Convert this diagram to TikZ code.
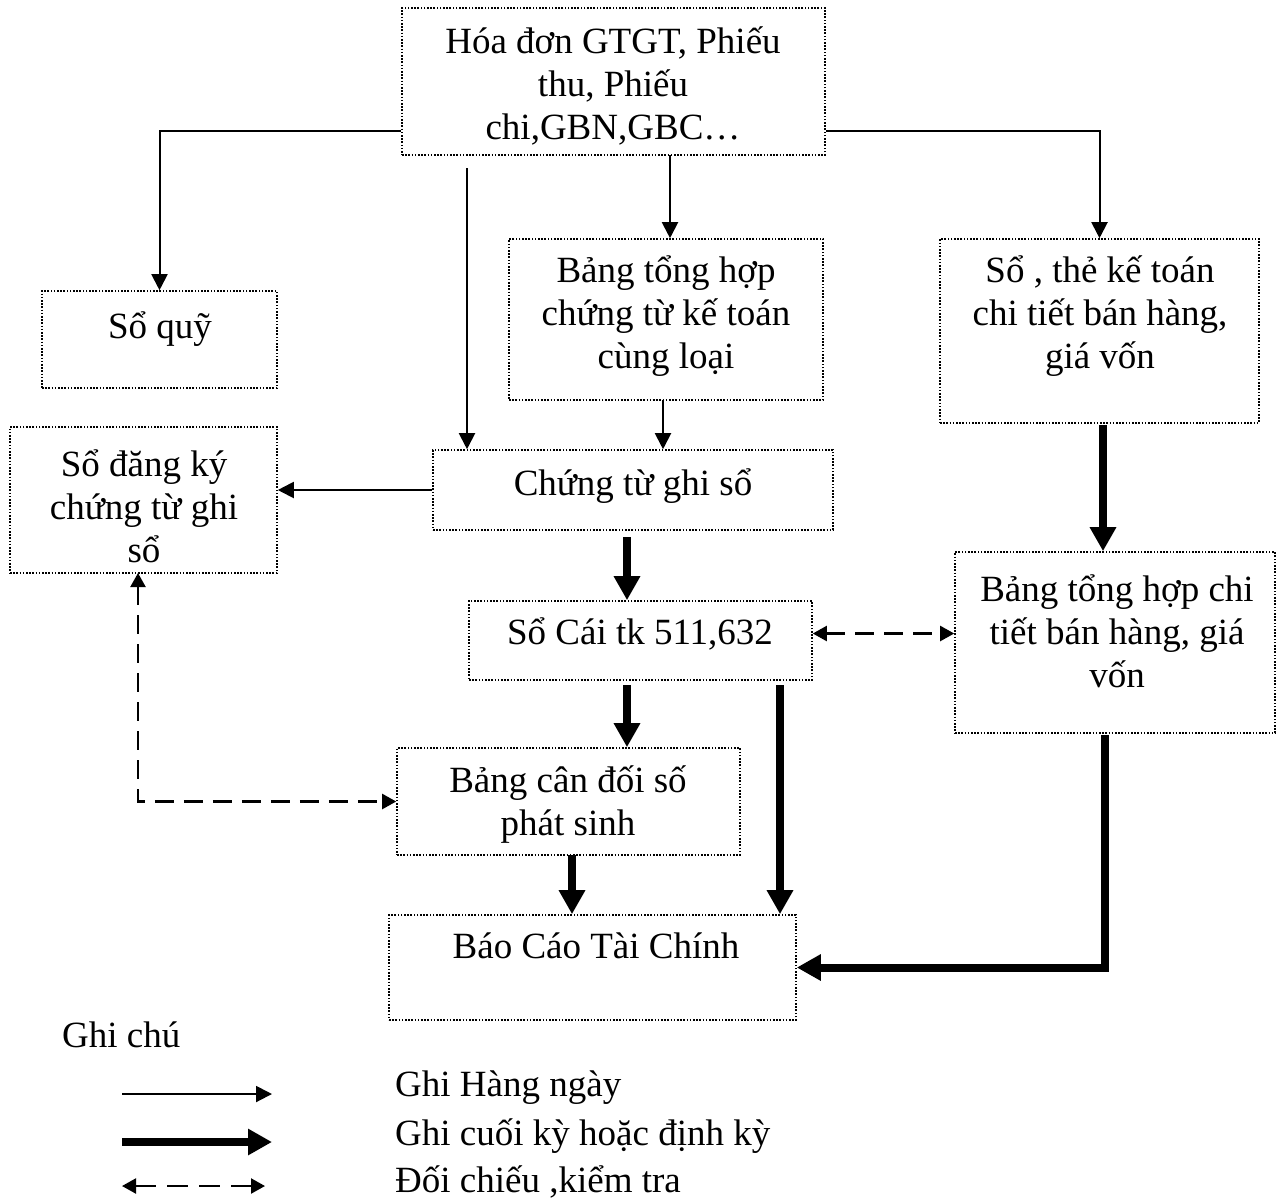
\documentclass[tikz,border=0pt]{standalone}
\usepackage{fontspec}
\setmainfont{Liberation Serif}
\usetikzlibrary{arrows.meta,calc}
\begin{document}
\begin{tikzpicture}[x=1pt,y=-1pt,
  box/.style={draw, line width=1.6pt, dash pattern=on 1.6pt off 1.6pt, inner sep=0pt},
  lbl/.style={align=center, font=\fontsize{37}{43}\selectfont, inner sep=0pt},
  thinarr/.style={line width=2pt, -{Triangle[length=16pt,width=16pt]}},
  thickarr/.style={line width=8pt, -{Triangle[length=24pt,width=25pt]}},
  chkarr/.style={line width=2.2pt, dash pattern=on 19pt off 10pt,
    {Triangle[length=14pt,width=15pt]}-{Triangle[length=14pt,width=15pt]}},
]
\useasboundingbox (0,0) rectangle (1276,1200);

% boxes
\node[box, minimum width=423pt, minimum height=147pt] (src)   at (613.5,81.5) {};
\node[box, minimum width=235pt, minimum height=97pt]  (quy)   at (159.5,339.5) {};
\node[box, minimum width=267pt, minimum height=146pt] (dk)    at (143.5,500) {};
\node[box, minimum width=314pt, minimum height=161pt] (bth)   at (666,319.5) {};
\node[box, minimum width=400pt, minimum height=80pt]  (ctgs)  at (633,490) {};
\node[box, minimum width=319pt, minimum height=184pt] (sct)   at (1099.5,331) {};
\node[box, minimum width=343pt, minimum height=79pt]  (socai) at (640.5,640.5) {};
\node[box, minimum width=320pt, minimum height=181pt] (btct)  at (1115,642.5) {};
\node[box, minimum width=343pt, minimum height=107pt] (bcd)   at (568.5,801.5) {};
\node[box, minimum width=407pt, minimum height=105pt] (bctc)  at (592.5,967.5) {};

% box texts
\node[lbl] (src-t)   at (613,86)   {Hóa đơn GTGT, Phiếu\\thu, Phiếu\\chi,GBN,GBC…};
\node[lbl] (quy-t)   at (160,329)  {Sổ quỹ};
\node[lbl] (dk-t)    at (144,506)  {Sổ đăng ký\\chứng từ ghi\\sổ};
\node[lbl] (bth-t)   at (666,316)  {Bảng tổng hợp\\chứng từ kế toán\\cùng loại};
\node[lbl] (ctgs-t)  at (633,486)  {Chứng từ ghi sổ};
\node[lbl] (sct-t)   at (1100,316) {Sổ , thẻ kế toán\\chi tiết bán hàng,\\giá vốn};
\node[lbl] (socai-t) at (640,634)  {Sổ Cái tk 511,632};
\node[lbl] (btct-t)  at (1117,631) {Bảng tổng hợp chi\\tiết bán hàng, giá\\vốn};
\node[lbl] (bcd-t)   at (568,805)  {Bảng cân đối số\\phát sinh};
\node[lbl] (bctc-t)  at (596,946)  {Báo Cáo Tài Chính};

% daily entries
\draw[thinarr] ($(src.south west)+(0,-25)$) -| (quy.north);
\coordinate (s1) at (467,168);
\draw[thinarr] (s1) -- (s1 |- ctgs.north);
\coordinate (s2) at (670,155);
\draw[thinarr] (s2) -- (s2 |- bth.north);
\draw[thinarr] ($(src.south east)+(0,-25)$) -| (sct.north);
\coordinate (s3) at (663,400);
\draw[thinarr] (s3) -- (s3 |- ctgs.north);
\draw[thinarr] (ctgs.west) -- (ctgs.west -| dk.east);

% period-end entries
\coordinate (t1) at (627,537);
\draw[thickarr] (t1) -- (t1 |- socai.north);
\coordinate (t2) at (627,685);
\draw[thickarr] (t2) -- (t2 |- bcd.north);
\coordinate (t3) at (780,685);
\draw[thickarr] (t3) -- (t3 |- bctc.north);
\coordinate (t4) at (572,855);
\draw[thickarr] (t4) -- (t4 |- bctc.north);
\coordinate (t5) at (1103,425);
\draw[thickarr] (t5) -- (t5 |- btct.north);
\coordinate (t6) at (1105,735);
\draw[thickarr] (t6) |- (bctc.east);

% cross-checks
\coordinate (c1) at ($(socai.east)+(0,-7)$);
\draw[chkarr] (c1) -- (c1 -| btct.west);
\coordinate (d1) at (138,573);
\draw[chkarr] (d1) |- (bcd.west);

% legend
\node[lbl, anchor=base west] (leg) at (62,1047) {Ghi chú};
\coordinate (l1a) at (122,1094); \coordinate (l1b) at (272,1094);
\draw[thinarr] (l1a) -- (l1b);
\coordinate (l2a) at (122,1142); \coordinate (l2b) at (272,1142);
\draw[thickarr] (l2a) -- (l2b);
\coordinate (l3a) at (122,1186); \coordinate (l3b) at (265,1186);
\draw[chkarr, dash pattern=on 21pt off 11pt] (l3a) -- (l3b);
\node[lbl, anchor=base west] (leg1) at (395,1096) {Ghi Hàng ngày};
\node[lbl, anchor=base west] (leg2) at (395,1145) {Ghi cuối kỳ hoặc định kỳ};
\node[lbl, anchor=base west] (leg3) at (395,1192) {Đối chiếu ,kiểm tra};
\end{tikzpicture}
\end{document}
